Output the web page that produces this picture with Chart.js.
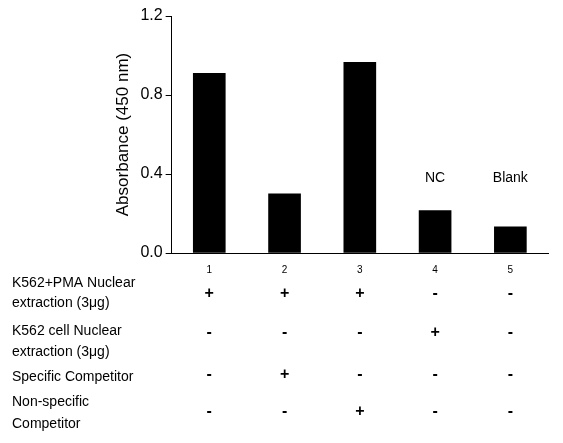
<!DOCTYPE html><html><head><script src="https://cdn.jsdelivr.net/npm/chart.js"></script>
<style>body{margin:0;background:#fff}#w{width:563px;height:443px}</style></head><body><div id="w"><canvas id="c"></canvas></div>
<script>
const categories=['1','2','3','4','5'];
const values=[0.91,0.30,0.965,0.215,0.133];
const barNotes=['','','','NC','Blank'];
const rowLabels=[['K562+PMA Nuclear','extraction (3μg)'],['K562 cell Nuclear','extraction (3μg)'],['Specific Competitor'],['Non-specific','Competitor']];
const signs=[['+','+','+','-','-'],['-','-','-','+','-'],['-','+','-','-','-'],['-','-','+','-','-']];
const F='"Liberation Sans", Arial, sans-serif';
const table={id:'t',afterDraw(ch){const c=ch.ctx,x=ch.scales.x;c.save();c.fillStyle='#000';
c.textAlign='center';c.textBaseline='middle';c.font='10px '+F;
categories.forEach((k,i)=>c.fillText(k,x.getPixelForValue(i),270));
c.font='14px '+F;barNotes.forEach((n,i)=>{if(n)c.fillText(n,x.getPixelForValue(i),178);});
const lineY=[[283,303],[331,352],[377],[402,424]],signY=[294,333,375,412];
c.textAlign='left';
rowLabels.forEach((r,j)=>r.forEach((t,k)=>c.fillText(t,12,lineY[j][k])));
c.textAlign='center';c.font='bold 16px '+F;
signs.forEach((r,j)=>r.forEach((s,i)=>c.fillText(s,x.getPixelForValue(i),signY[j])));
c.restore();}};
new Chart(document.getElementById('c'),{type:'bar',data:{labels:categories,datasets:[{data:values,backgroundColor:'#000',barThickness:32}]},
options:{responsive:true,maintainAspectRatio:false,animation:false,layout:{padding:{left:109,top:16,right:15,bottom:182}},
plugins:{legend:{display:false},tooltip:{enabled:false}},
scales:{x:{grid:{display:false},border:{color:'#000'},ticks:{display:false}},
y:{min:0,max:1.2,ticks:{stepSize:0.4,color:'#000',font:{size:16,family:F},callback:v=>v.toFixed(1)},grid:{drawOnChartArea:false,color:'#000',tickLength:6},border:{color:'#000'},
title:{display:true,text:'Absorbance (450 nm)',color:'#000',font:{size:17,family:F}}}}},plugins:[table]});
</script></body></html>
